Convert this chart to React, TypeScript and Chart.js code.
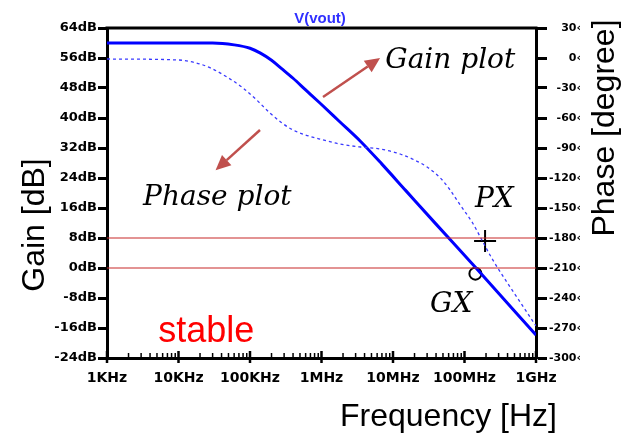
import React, { useEffect, useRef } from "react";
import { Chart, registerables } from "chart.js";

Chart.register(...registerables);

// ---- data ----
const gainFreq = [1e3, 3e4, 6e4, 1e5, 1.4e5, 2e5, 2.8e5, 4e5, 6e5, 9.5e5, 1.8e6, 3.5e6, 7e6, 1.5e7, 4e7, 1.45e8, 1e9];
const gainDb = [60, 60, 59.5, 58.6, 57.3, 55.4, 53.1, 50.6, 47.5, 44.0, 39.0, 33.8, 27.7, 20.7, 11.7, 0, -17.9];

const phaseFreq = [1e3, 1e4, 2e4, 3e4, 5e4, 8e4, 1.2e5, 1.9e5, 2.8e5, 4e5, 6e5, 1e6, 1.8e6, 3.5e6, 6.6e6, 1.26e7, 2e7, 3e7, 4.6e7, 6.3e7, 8.7e7, 1.3e8, 1.75e8, 2.4e8, 3.9e8, 6e8, 1e9];
const phaseDeg = [-1, -2, -6, -11, -20, -30, -41, -55, -65, -72, -77, -81.5, -86, -89, -91, -96, -102, -109, -120, -132, -147, -165, -182, -200, -224, -244, -268];

const refLevelsDb = [8, 0];
const pxPoint = { f: 1.94e8, deg: -183 };
const gxPoint = { f: 1.42e8, db: -1.5 };

const xTickValues = [1e3, 1e4, 1e5, 1e6, 1e7, 1e8, 1e9];
const xTickLabels = ["1KHz", "10KHz", "100KHz", "1MHz", "10MHz", "100MHz", "1GHz"];
const gainMin = -24, gainMax = 64, gainStep = 8;
const phaseMin = -300, phaseMax = 30, phaseStep = 30;

// annotation anchors in data space (freq, gain dB)
const textNotes = [
  { text: "Gain plot", f: 7.8e6, db: 53.3, font: "italic 28px 'DejaVu Serif', serif", color: "#000" },
  { text: "Phase plot", f: 3.2e3, db: 16.8, font: "italic 28px 'DejaVu Serif', serif", color: "#000" },
  { text: "PX", f: 1.4e8, db: 16.3, font: "italic 28px 'DejaVu Serif', serif", color: "#000" },
  { text: "GX", f: 3.3e7, db: -11.7, font: "italic 28px 'DejaVu Serif', serif", color: "#000" },
  { text: "stable", f: 5.2e3, db: -19.7, font: "36px 'Liberation Sans', Arial, sans-serif", color: "#ff0000" },
];
const arrowNotes = [
  { f1: 1.05e6, db1: 45.6, f2: 6.6e6, db2: 56 },
  { f1: 1.38e5, db1: 36.8, f2: 3.3e4, db2: 26.1 },
];

const overlayPlugin = {
  id: "overlay",
  afterDraw(chart: any) {
    const { ctx, chartArea: a, scales } = chart;
    const xs = scales.x, ys = scales.y;
    ctx.save();
    // top border
    ctx.strokeStyle = "#000";
    ctx.lineWidth = 3;
    ctx.beginPath();
    ctx.moveTo(a.left - 1.5, a.top);
    ctx.lineTo(a.right + 1.5, a.top);
    ctx.stroke();
    // x ticks (major + minor) drawn inward
    for (let i = 0; i < xTickValues.length; i++) {
      const dec = xTickValues[i];
      const px = xs.getPixelForValue(dec);
      ctx.lineWidth = 2.5;
      ctx.beginPath();
      ctx.moveTo(px, a.bottom + 5);
      ctx.lineTo(px, a.bottom - 7);
      ctx.stroke();
      if (i < xTickValues.length - 1) {
        for (let m = 2; m <= 9; m++) {
          const mx = xs.getPixelForValue(dec * m);
          ctx.lineWidth = 1.5;
          ctx.beginPath();
          ctx.moveTo(mx, a.bottom);
          ctx.lineTo(mx, a.bottom - 5);
          ctx.stroke();
        }
      }
    }
    // arrows
    ctx.strokeStyle = "#c0504d";
    ctx.fillStyle = "#c0504d";
    ctx.lineWidth = 2.5;
    for (const ar of arrowNotes) {
      const x1 = xs.getPixelForValue(ar.f1), y1 = ys.getPixelForValue(ar.db1);
      const x2 = xs.getPixelForValue(ar.f2), y2 = ys.getPixelForValue(ar.db2);
      const ang = Math.atan2(y2 - y1, x2 - x1);
      const hl = 15, hw = 7;
      const bx = x2 - hl * Math.cos(ang), by = y2 - hl * Math.sin(ang);
      ctx.beginPath();
      ctx.moveTo(x1, y1);
      ctx.lineTo(bx, by);
      ctx.stroke();
      ctx.beginPath();
      ctx.moveTo(x2, y2);
      ctx.lineTo(bx + hw * Math.sin(ang), by - hw * Math.cos(ang));
      ctx.lineTo(bx - hw * Math.sin(ang), by + hw * Math.cos(ang));
      ctx.closePath();
      ctx.fill();
    }
    // text annotations
    ctx.textAlign = "left";
    ctx.textBaseline = "alphabetic";
    for (const t of textNotes) {
      ctx.font = t.font;
      ctx.fillStyle = t.color;
      ctx.fillText(t.text, xs.getPixelForValue(t.f), ys.getPixelForValue(t.db));
    }
    // title
    ctx.font = "bold 15px 'Liberation Sans', Arial, sans-serif";
    ctx.fillStyle = "#3030ff";
    ctx.textAlign = "center";
    ctx.fillText("V(vout)", 320, 23);
    // axis titles
    ctx.fillStyle = "#000";
    ctx.font = "32px 'Liberation Sans', Arial, sans-serif";
    ctx.textAlign = "left";
    ctx.fillText("Frequency [Hz]", 340, 426);
    ctx.textAlign = "center";
    ctx.save();
    ctx.translate(44, 225);
    ctx.rotate(-Math.PI / 2);
    ctx.fillText("Gain [dB]", 0, 0);
    ctx.restore();
    ctx.save();
    ctx.translate(614, 128);
    ctx.rotate(-Math.PI / 2);
    ctx.fillText("Phase [degree]", 0, 0);
    ctx.restore();
    ctx.restore();
  },
};

export default function App() {
  const ref = useRef<HTMLCanvasElement | null>(null);
  useEffect(() => {
    if (!ref.current) return;
    const gainData = gainFreq.map((f, i) => ({ x: f, y: gainDb[i] }));
    const phaseData = phaseFreq.map((f, i) => ({ x: f, y: phaseDeg[i] }));
    const tickFont = { family: "'DejaVu Sans', sans-serif", weight: "bold" as const };
    const chart = new Chart(ref.current, {
      type: "line",
      data: {
        datasets: [
          ...refLevelsDb.map((lv) => ({
            data: [{ x: xTickValues[0], y: lv }, { x: xTickValues[xTickValues.length - 1], y: lv }],
            yAxisID: "y",
            borderColor: "#c82828",
            borderWidth: 1.2,
            pointRadius: 0,
          })),
          {
            data: phaseData,
            yAxisID: "y2",
            borderColor: "#3a3aff",
            borderWidth: 1.3,
            borderDash: [3, 3],
            pointRadius: 0,
            cubicInterpolationMode: "monotone" as const,
          },
          {
            data: gainData,
            yAxisID: "y",
            borderColor: "#0000ff",
            borderWidth: 3,
            pointRadius: 0,
            cubicInterpolationMode: "monotone" as const,
          },
          {
            data: [{ x: pxPoint.f, y: pxPoint.deg }],
            yAxisID: "y2",
            showLine: false,
            pointStyle: "cross",
            pointRadius: 11,
            borderColor: "#000",
            borderWidth: 2,
          },
          {
            data: [{ x: gxPoint.f, y: gxPoint.db }],
            yAxisID: "y",
            showLine: false,
            pointStyle: "circle",
            pointRadius: 6,
            borderColor: "#000",
            backgroundColor: "rgba(0,0,0,0)",
            borderWidth: 2,
          },
        ],
      },
      options: {
        responsive: false,
        devicePixelRatio: 1,
        animation: false,
        layout: { padding: { top: 28, right: 40, left: 0, bottom: 0 } },
        plugins: { legend: { display: false }, tooltip: { enabled: false }, title: { display: false } },
        scales: {
          x: {
            type: "logarithmic",
            min: 1e3,
            max: 1e9,
            afterBuildTicks: (s: any) => {
              s.ticks = xTickValues.map((v) => ({ value: v, major: true }));
            },
            afterFit: (s: any) => {
              s.height = 77;
            },
            ticks: {
              autoSkip: false,
              maxRotation: 0,
              padding: 12,
              color: "#000",
              font: { ...tickFont, size: 14 },
              callback: (_v: any, i: number) => xTickLabels[i],
            },
            grid: { display: true, drawOnChartArea: false, drawTicks: false },
            border: { display: true, color: "#000", width: 3 },
          },
          y: {
            position: "left",
            min: gainMin,
            max: gainMax,
            afterFit: (s: any) => {
              s.width = 107;
            },
            ticks: {
              stepSize: gainStep,
              padding: 1,
              color: "#000",
              font: { ...tickFont, size: 13 },
              callback: (v: any) => `${v}dB`,
            },
            grid: { drawOnChartArea: false, drawTicks: true, tickLength: 9, tickWidth: 3, tickColor: "#000" },
            border: { display: true, color: "#000", width: 3 },
          },
          y2: {
            position: "right",
            min: phaseMin,
            max: phaseMax,
            afterFit: (s: any) => {
              s.width = 45;
            },
            ticks: {
              stepSize: phaseStep,
              crossAlign: "far",
              padding: 1,
              color: "#000",
              font: { ...tickFont, size: 11 },
              callback: (v: any) => `${v}‹`,
            },
            grid: { drawOnChartArea: false, drawTicks: true, tickLength: 11, tickWidth: 3, tickColor: "#000" },
            border: { display: true, color: "#000", width: 3 },
          },
        },
      },
      plugins: [overlayPlugin],
    });
    return () => chart.destroy();
  }, []);
  return (
    <div style={{ position: "fixed", left: 0, top: 0, width: 621, height: 435, background: "#fff" }}>
      <canvas ref={ref} width={621} height={435} style={{ width: 621, height: 435, display: "block" }} />
    </div>
  );
}
